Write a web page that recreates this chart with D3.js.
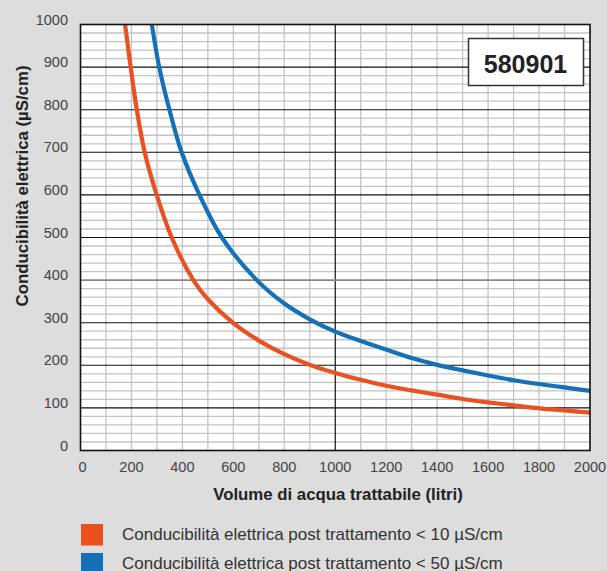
<!DOCTYPE html>
<html>
<head>
<meta charset="utf-8">
<script src="https://cdn.jsdelivr.net/npm/d3@7"></script>
<style>
  html, body { margin: 0; padding: 0; background: #dcdddc; }
  svg { display: block; font-family: "Liberation Sans", Arial, Helvetica, sans-serif; }
</style>
</head>
<body>
<svg id="chart" width="607" height="571"></svg>
<script>
// ---- data ----
const xTicks = [0, 200, 400, 600, 800, 1000, 1200, 1400, 1600, 1800, 2000];
const yTicks = [0, 100, 200, 300, 400, 500, 600, 700, 800, 900, 1000];

const orangeX = [175, 197, 221, 252, 299, 358, 443, 500, 600, 700, 800, 900, 1000, 1100, 1200, 1300, 1400, 1500, 1600, 1700, 1800, 1900, 2000];
const orangeY = [1000, 900, 800, 700, 600, 500, 400, 355, 299, 258, 226, 201, 182, 166, 152, 141, 131, 121, 113, 106, 99, 94, 89];

const blueX = [280, 309, 349, 397, 467, 555, 692, 800, 900, 1000, 1100, 1200, 1300, 1400, 1500, 1600, 1700, 1800, 1900, 2000];
const blueY = [1000, 900, 800, 700, 600, 500, 400, 345, 308, 279, 257, 237, 217, 201, 188, 176, 165, 156, 148, 140];

const seriesNames = [
  "Conducibilità elettrica post trattamento < 10 µS/cm",
  "Conducibilità elettrica post trattamento < 50 µS/cm"
];
const seriesColors = ["#eb5120", "#1470b8"];
const productCode = "580901";
const xTitle = "Volume di acqua trattabile (litri)";
const yTitle = "Conducibilità elettrica (µS/cm)";

// ---- layout ----
const svg = d3.select("#chart");
const L = 80.5, R = 590, T = 24.5, B = 450.5;
const x = d3.scaleLinear().domain([0, 2000]).range([L, R]);
const y = d3.scaleLinear().domain([0, 1000]).range([B, T]);

svg.append("rect").attr("width", 607).attr("height", 571).attr("fill", "#dcdddc");
svg.append("rect").attr("x", L).attr("y", T).attr("width", R - L).attr("height", B - T).attr("fill", "#fff");

// minor horizontal grid (every 20)
const minorY = d3.range(20, 1000, 20).filter(v => v % 100 !== 0);
svg.append("g").selectAll("line").data(minorY).join("line")
  .attr("x1", L).attr("x2", R)
  .attr("y1", d => y(d)).attr("y2", d => y(d))
  .attr("stroke", "#c4c4c4").attr("stroke-width", 1.3);

// vertical grid (every 100)
const vGrid = d3.range(100, 2000, 100);
svg.append("g").selectAll("line").data(vGrid).join("line")
  .attr("y1", T).attr("y2", B)
  .attr("x1", d => x(d)).attr("x2", d => x(d))
  .attr("stroke", d => d === 1000 ? "#111" : "#c4c4c4")
  .attr("stroke-width", d => d === 1000 ? 1.2 : 1.3);

// major horizontal grid
svg.append("g").selectAll("line").data(d3.range(100, 1000, 100)).join("line")
  .attr("x1", L).attr("x2", R)
  .attr("y1", d => y(d)).attr("y2", d => y(d))
  .attr("stroke", d => d === 400 ? "#888" : "#111").attr("stroke-width", d => d === 400 ? 1.6 : 1.1);

// curves
svg.append("clipPath").attr("id", "clip")
  .append("rect").attr("x", L).attr("y", T).attr("width", R - L).attr("height", B - T);
const line = d3.line().x(d => x(d[0])).y(d => y(d[1])).curve(d3.curveCatmullRom.alpha(0.5));
const series = [
  d3.zip(orangeX, orangeY),
  d3.zip(blueX, blueY)
];
svg.append("g").attr("clip-path", "url(#clip)").selectAll("path").data(series).join("path")
  .attr("d", line)
  .attr("fill", "none")
  .attr("stroke", (d, i) => seriesColors[i])
  .attr("stroke-width", 4.2);

// border
svg.append("rect").attr("x", L).attr("y", T).attr("width", R - L).attr("height", B - T)
  .attr("fill", "none").attr("stroke", "#111").attr("stroke-width", 1.6);

// y tick labels
svg.append("g").selectAll("text").data(yTicks).join("text")
  .attr("x", 68).attr("y", d => y(d))
  .attr("text-anchor", "end")
  .attr("font-size", 14.5).attr("fill", "#444")
  .text(d => d);

// x tick labels
svg.append("g").selectAll("text").data(xTicks).join("text")
  .attr("x", d => x(d) + (d === 0 ? 2 : 0)).attr("y", 472)
  .attr("text-anchor", "middle")
  .attr("font-size", 14.5).attr("fill", "#444")
  .text(d => d);

// axis titles
svg.append("text")
  .attr("x", 338).attr("y", 500)
  .attr("text-anchor", "middle").attr("font-weight", "bold")
  .attr("font-size", 16.8).attr("fill", "#222")
  .text(xTitle);

svg.append("text")
  .attr("transform", "translate(28,186) rotate(-90)")
  .attr("text-anchor", "middle").attr("font-weight", "bold")
  .attr("font-size", 16.8).attr("fill", "#222")
  .text(yTitle);

// product code box
svg.append("rect").attr("x", 468.5).attr("y", 38.5).attr("width", 115).attr("height", 47)
  .attr("fill", "#fff").attr("stroke", "#333").attr("stroke-width", 1.5);
svg.append("text").attr("x", 525.5).attr("y", 73)
  .attr("text-anchor", "middle").attr("font-weight", "bold")
  .attr("font-size", 25).attr("fill", "#222")
  .text(productCode);

// legend
const leg = svg.append("g").selectAll("g").data(seriesNames).join("g")
  .attr("transform", (d, i) => `translate(81,${524 + i * 29})`);
leg.append("rect").attr("width", 22).attr("height", 21.5).attr("fill", (d, i) => seriesColors[i]);
leg.append("text").attr("x", 41).attr("y", 15.5)
  .attr("font-size", 17).attr("fill", "#333")
  .text(d => d);
</script>
</body>
</html>
